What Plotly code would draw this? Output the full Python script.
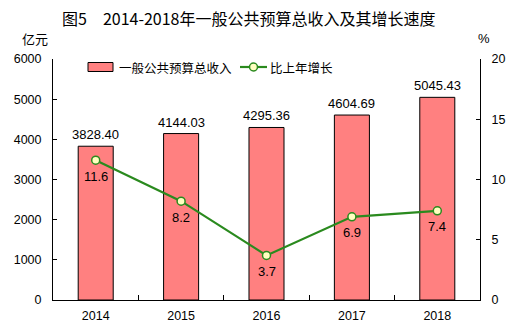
import plotly.graph_objects as go

years = ["2014", "2015", "2016", "2017", "2018"]
revenue = [3828.40, 4144.03, 4295.36, 4604.69, 5045.43]
growth = [11.6, 8.2, 3.7, 6.9, 7.4]
revenue_labels = ["3828.40", "4144.03", "4295.36", "4604.69", "5045.43"]
growth_labels = ["11.6", "8.2", "3.7", "6.9", "7.4"]
left_ticks = [0, 1000, 2000, 3000, 4000, 5000, 6000]
right_ticks = [0, 5, 10, 15, 20]

FONT = "Liberation Sans, Arial, Noto Sans CJK SC"
CJK = "Noto Sans CJK SC"
BAR_COLOR = "#FF8080"
LINE_COLOR = "#2A8A1E"
MARKER_FILL = "#FFFFC0"

# plot area in pixels (for placing non-data decorations)
L, R, T, B = 53, 480, 59, 300
def px(x):
    return (x - L) / (R - L)
def py(y):
    return (B - y) / (B - T)

fig = go.Figure()
fig.add_trace(go.Bar(
    x=years, y=revenue, name="一般公共预算总收入",
    marker=dict(color=BAR_COLOR, line=dict(color="black", width=1)),
    width=0.41, showlegend=False,
))
fig.add_trace(go.Scatter(
    x=years, y=growth, name="比上年增长", yaxis="y2",
    mode="lines+markers",
    line=dict(color=LINE_COLOR, width=2.2),
    marker=dict(size=8, color=MARKER_FILL, line=dict(color=LINE_COLOR, width=1.5)),
    cliponaxis=False, showlegend=False,
))

annotations = []
for i, (v, t) in enumerate(zip(revenue, revenue_labels)):
    annotations.append(dict(x=i, y=v, xref="x", yref="y", text=t, showarrow=False,
                            yanchor="bottom", yshift=2, font=dict(size=13, family=FONT)))
for i, (v, t) in enumerate(zip(growth, growth_labels)):
    annotations.append(dict(x=i, y=v, xref="x", yref="y2", text=t, showarrow=False,
                            yanchor="middle", yshift=-16, font=dict(size=13, family=FONT)))

annotations += [
    dict(text="图5　2014-2018年一般公共预算总收入及其增长速度", xref="paper", yref="paper",
         x=px(248.5), y=py(18), xanchor="center", yanchor="middle",
         showarrow=False, font=dict(size=16, family=CJK, weight="normal")),
    dict(text="亿元", xref="paper", yref="paper", x=px(35), y=py(38), xanchor="center",
         yanchor="middle", showarrow=False, font=dict(size=13, family=CJK)),
    dict(text="%", xref="paper", yref="paper", x=px(484), y=py(38), xanchor="center",
         yanchor="middle", showarrow=False, font=dict(size=13, family=FONT)),
    # legend texts
    dict(text="一般公共预算总收入", xref="paper", yref="paper", x=px(117), y=py(67),
         xanchor="left", yanchor="middle", showarrow=False, font=dict(size=12.5, family=CJK)),
    dict(text="比上年增长", xref="paper", yref="paper", x=px(268), y=py(67),
         xanchor="left", yanchor="middle", showarrow=False, font=dict(size=12.5, family=CJK)),
]

shapes = [
    dict(type="rect", xref="paper", yref="paper", x0=px(88), x1=px(113), y0=py(71.5), y1=py(62.5),
         fillcolor=BAR_COLOR, line=dict(color="black", width=1)),
    dict(type="line", xref="paper", yref="paper", x0=px(240), x1=px(267), y0=py(67), y1=py(67),
         line=dict(color=LINE_COLOR, width=2.2)),
    dict(type="circle", xref="paper", yref="paper", x0=px(249.5), x1=px(257.5), y0=py(71), y1=py(63),
         fillcolor=MARKER_FILL, line=dict(color=LINE_COLOR, width=1.5)),
]

fig.update_layout(
    width=518, height=330,
    margin=dict(l=L, r=518 - R, t=T, b=330 - B, autoexpand=False),
    paper_bgcolor="white", plot_bgcolor="white",
    font=dict(family=FONT, size=12.5, color="black"),
    showlegend=False,
    bargap=0.59,
    xaxis=dict(type="category", range=[-0.5, 4.5], showline=True, linecolor="black", linewidth=1,
               ticks="inside", ticklen=5, tickcolor="black", tickson="boundaries",
               showgrid=False, tickfont=dict(size=12.5), ticklabelstandoff=4, tickangle=0,
               automargin=False),
    yaxis=dict(range=[0, 6000], tickvals=left_ticks, showline=True, linecolor="black",
               linewidth=1, ticks="inside", ticklen=4, tickcolor="black",
               showgrid=False, zeroline=False, tickfont=dict(size=12.5), ticklabelstandoff=8,
               automargin=False),
    yaxis2=dict(range=[0, 20], tickvals=right_ticks, overlaying="y", side="right",
                showline=True, linecolor="black", linewidth=1, ticks="inside",
                ticklen=4, tickcolor="black", showgrid=False, zeroline=False,
                tickfont=dict(size=12.5), ticklabelstandoff=8, automargin=False),
    annotations=annotations,
    shapes=shapes,
)

fig.write_html("out.html")
